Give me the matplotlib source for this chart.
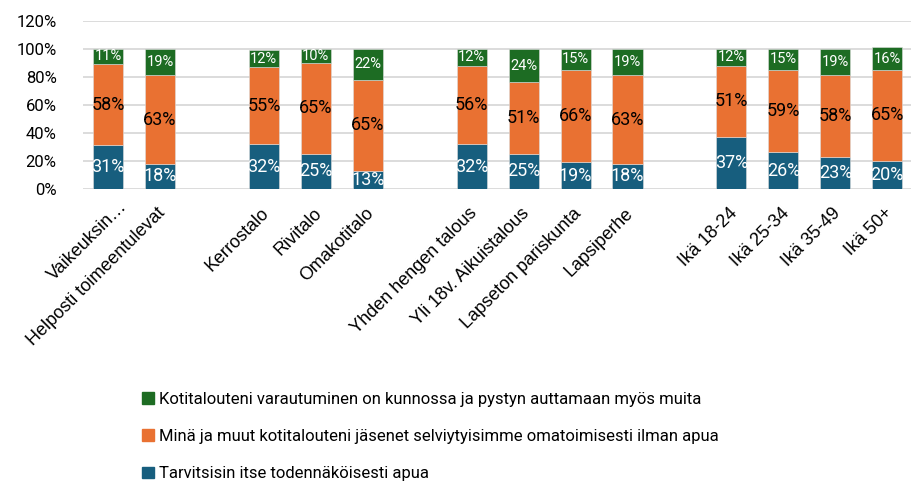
import numpy as np
import matplotlib
matplotlib.use('Agg')
import matplotlib.pyplot as plt
from matplotlib.patches import Patch
from matplotlib import transforms

categories = ['Vaikeuksin…', 'Helposti toimeentulevat',
              'Kerrostalo', 'Rivitalo', 'Omakotitalo',
              'Yhden hengen talous', 'Yli 18v. Aikuistalous', 'Lapseton pariskunta', 'Lapsiperhe',
              'Ikä 18-24', 'Ikä 25-34', 'Ikä 35-49', 'Ikä 50+']
slots = [0, 1, 3, 4, 5, 7, 8, 9, 10, 12, 13, 14, 15]

tarvitsisin = [31, 18, 32, 25, 13, 32, 25, 19, 18, 37, 26, 23, 20]
selviytyisimme = [58, 63, 55, 65, 65, 56, 51, 66, 63, 51, 59, 58, 65]
kunnossa = [11, 19, 12, 10, 22, 12, 24, 15, 19, 12, 15, 19, 16]

series_names = ['Tarvitsisin itse todennäköisesti apua',
                'Minä ja muut kotitalouteni jäsenet selviytyisimme omatoimisesti ilman apua',
                'Kotitalouteni varautuminen on kunnossa ja pystyn auttamaan myös muita']
colors = ['#175E7E', '#E97132', '#1D6C23']
label_colors = ['white', 'black', 'white']
label_sizes = [13, 13, 10.5]

fig = plt.figure(figsize=(9.13, 4.82), dpi=100)
ax = fig.add_axes([0.091, 0.608, 0.907, 0.349])

x = np.array(slots)
bottom = np.zeros(len(x))
for vals, col, lc, ls in zip([tarvitsisin, selviytyisimme, kunnossa], colors, label_colors, label_sizes):
    vals = np.array(vals, dtype=float)
    ax.bar(x, vals, 0.58, bottom=bottom, color=col, edgecolor='#dddddd', linewidth=0.4, zorder=3)
    for xi, b, v in zip(x, bottom, vals):
        ax.text(xi, b + v / 2, f'{int(v)}%', ha='center', va='center', color=lc,
                fontsize=ls, family='Roboto', zorder=4)
    bottom += vals

ax.set_ylim(0, 120)
ax.set_xlim(-0.48, 15.46)
ax.set_yticks(range(0, 121, 20))
ax.set_yticklabels([f'{v}%' for v in range(0, 121, 20)], family='Roboto', fontsize=12)
ax.yaxis.grid(True, color='#D9D9D9', linewidth=1.3, zorder=0)
ax.set_axisbelow(True)
for s in ax.spines.values():
    s.set_visible(False)
ax.tick_params(axis='both', length=0)
ax.tick_params(axis='y', pad=19)

ax.set_xticks(x)
ax.set_xticklabels(categories, rotation=45, ha='right', va='top', rotation_mode='anchor',
                   family='Liberation Sans', fontsize=13)
# the truncated first label sits a bit further right/up in the original
for i, lab in enumerate(ax.get_xticklabels()):
    dx, dy = (10, -4) if i == 0 else (-3, -11)
    off = transforms.ScaledTranslation(dx / 100, dy / 100, fig.dpi_scale_trans)
    lab.set_transform(lab.get_transform() + off)

handles = [Patch(color=c) for c in colors[::-1]]
fig.legend(handles, series_names[::-1], loc='upper left', bbox_to_anchor=(0.1395, 0.218),
           frameon=False, prop={'family': 'Roboto', 'size': 12},
           handlelength=0.7, handleheight=0.7, handletextpad=0.3, labelspacing=1.33)

fig.savefig('out.png', dpi=100)
